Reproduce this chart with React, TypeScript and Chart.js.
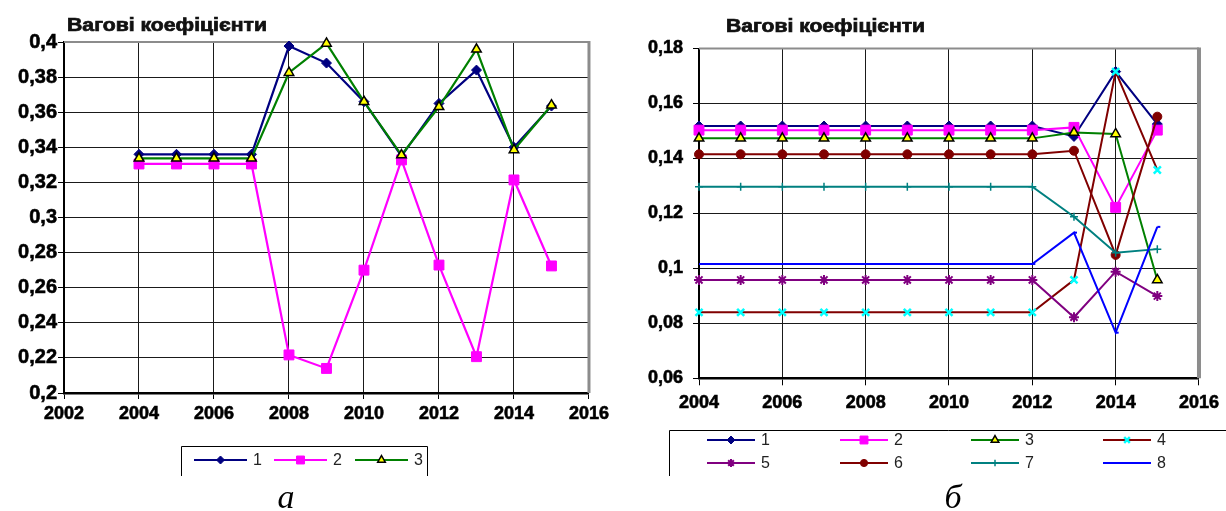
import React, { useEffect, useRef } from 'react';
import { Chart, registerables } from 'chart.js';
import { drawPoint } from 'chart.js/helpers';

Chart.register(...registerables);

const TITLE = 'Вагові коефіцієнти';

// Panel "а": three weight series
const yearsA = [2004, 2005, 2006, 2007, 2008, 2009, 2010, 2011, 2012, 2013, 2014, 2015];
const seriesA1 = [0.336, 0.336, 0.336, 0.336, 0.3977, 0.388, 0.366, 0.335, 0.365, 0.384, 0.340, 0.3635];
const seriesA2 = [0.3305, 0.3305, 0.3305, 0.3305, 0.2217, 0.214, 0.270, 0.3328, 0.2729, 0.2207, 0.3214, 0.2724];
const seriesA3 = [0.3337, 0.3337, 0.3337, 0.3337, 0.3825, 0.3992, 0.366, 0.3356, 0.3631, 0.3958, 0.3385, 0.364];
const namesA = ['1', '2', '3'];
const xTicksA = [2002, 2004, 2006, 2008, 2010, 2012, 2014, 2016];
const yTicksA = [0.2, 0.22, 0.24, 0.26, 0.28, 0.3, 0.32, 0.34, 0.36, 0.38, 0.4];

// Panel "б": eight weight series
const yearsB = [2004, 2005, 2006, 2007, 2008, 2009, 2010, 2011, 2012, 2013, 2014, 2015];
const seriesB1 = [0.1518, 0.1518, 0.1518, 0.1518, 0.1518, 0.1518, 0.1518, 0.1518, 0.1518, 0.148, 0.1716, 0.1525];
const seriesB2 = [0.1503, 0.1503, 0.1503, 0.1503, 0.1503, 0.1503, 0.1503, 0.1503, 0.1503, 0.1513, 0.1222, 0.1503];
const seriesB3 = [0.1473, 0.1473, 0.1473, 0.1473, 0.1473, 0.1473, 0.1473, 0.1473, 0.1473, 0.1494, 0.1489, 0.0958];
const seriesB4 = [0.084, 0.084, 0.084, 0.084, 0.084, 0.084, 0.084, 0.084, 0.084, 0.0958, 0.1716, 0.1358];
const seriesB5 = [0.0958, 0.0958, 0.0958, 0.0958, 0.0958, 0.0958, 0.0958, 0.0958, 0.0958, 0.0822, 0.0988, 0.0899];
const seriesB6 = [0.1415, 0.1415, 0.1415, 0.1415, 0.1415, 0.1415, 0.1415, 0.1415, 0.1415, 0.1428, 0.1049, 0.1552];
const seriesB7 = [0.1297, 0.1297, 0.1297, 0.1297, 0.1297, 0.1297, 0.1297, 0.1297, 0.1297, 0.1188, 0.1057, 0.107];
const seriesB8 = [0.1016, 0.1016, 0.1016, 0.1016, 0.1016, 0.1016, 0.1016, 0.1016, 0.1016, 0.113, 0.0766, 0.1151];
const namesB = ['1', '2', '3', '4', '5', '6', '7', '8'];
const xTicksB = [2004, 2006, 2008, 2010, 2012, 2014, 2016];
const yTicksB = [0.06, 0.08, 0.1, 0.12, 0.14, 0.16, 0.18];

// Per-series line and marker look
const STYLES = [
  { line: '#000080', point: 'rectRot', fill: '#000080', stroke: '#000080', r: 5, bw: 1 },
  { line: '#ff00ff', point: 'rect', fill: '#ff00ff', stroke: '#ff00ff', r: 7, bw: 1 },
  { line: '#008000', point: 'triangle', fill: '#ffff00', stroke: '#000000', r: 5.5, bw: 1.5 },
  { line: '#800000', point: 'crossRot', fill: '#00ffff', stroke: '#00ffff', r: 5, bw: 2.5 },
  { line: '#800080', point: 'star', fill: '#800080', stroke: '#800080', r: 5, bw: 2 },
  { line: '#800000', point: 'circle', fill: '#800000', stroke: '#800000', r: 4.5, bw: 1 },
  { line: '#008080', point: 'cross', fill: '#008080', stroke: '#008080', r: 4, bw: 1.5 },
  { line: '#0000ff', point: 'dash', fill: '#0000ff', stroke: '#0000ff', r: 3, bw: 2 },
];

const W = 613;
const H = 511;
const X_AXIS_H = 40;
const SANS = '"Liberation Sans", Arial, sans-serif';

type Box = { left: number; top: number; right: number; bottom: number };

interface Panel {
  offset: number;
  area: Box;
  years: number[];
  series: number[][];
  names: string[];
  xTicks: number[];
  yTicks: number[];
  yFontSize: number;
  yPad: number;
  xPad: number;
  tickLen: number;
  lineWidth: number;
  rightBorderW: number;
  title: { x: number; y: number; w: number };
  legendBox: Box;
  legendItems: { x0: number; x1: number; y: number }[];
  caption: { text: string; x: number; y: number };
}

const panelA: Panel = {
  offset: 0,
  area: { left: 64, top: 42, right: 589, bottom: 393 },
  years: yearsA,
  series: [seriesA1, seriesA2, seriesA3],
  names: namesA,
  xTicks: xTicksA,
  yTicks: yTicksA,
  yFontSize: 20,
  yPad: 1,
  xPad: 4,
  tickLen: 6,
  lineWidth: 2.2,
  rightBorderW: 3,
  title: { x: 67, y: 26, w: 200 },
  legendBox: { left: 181, top: 446, right: 427, bottom: 476 },
  legendItems: [
    { x0: 194, x1: 247, y: 460 },
    { x0: 274, x1: 327, y: 460 },
    { x0: 355, x1: 408, y: 460 },
  ],
  caption: { text: 'а', x: 286, y: 508 },
};

const panelB: Panel = {
  offset: 613,
  area: { left: 86, top: 48.5, right: 588, bottom: 378.3 },
  years: yearsB,
  series: [seriesB1, seriesB2, seriesB3, seriesB4, seriesB5, seriesB6, seriesB7, seriesB8],
  names: namesB,
  xTicks: xTicksB,
  yTicks: yTicksB,
  yFontSize: 18,
  yPad: 10,
  xPad: 7,
  tickLen: 7,
  lineWidth: 2,
  rightBorderW: 4,
  title: { x: 113, y: 27, w: 199 },
  legendBox: { left: 56, top: 430, right: 640, bottom: 476 },
  legendItems: [
    { x0: 94, x1: 142, y: 440 },
    { x0: 227, x1: 275, y: 440 },
    { x0: 358, x1: 406, y: 440 },
    { x0: 490, x1: 538, y: 440 },
    { x0: 94, x1: 142, y: 463 },
    { x0: 227, x1: 275, y: 463 },
    { x0: 358, x1: 406, y: 463 },
    { x0: 490, x1: 538, y: 463 },
  ],
  caption: { text: 'б', x: 340, y: 508 },
};

const fmtValue = (v: number) => String(Number(v.toFixed(2))).replace('.', ',');

function decorPlugin(p: Panel) {
  return {
    id: 'decor',
    beforeDatasetsDraw(chart: any) {
      const { ctx, chartArea: a } = chart;
      ctx.save();
      ctx.strokeStyle = '#8c8c8c';
      ctx.lineWidth = 2;
      ctx.beginPath();
      ctx.moveTo(a.left, a.top);
      ctx.lineTo(a.right, a.top);
      ctx.stroke();
      ctx.lineWidth = p.rightBorderW;
      ctx.beginPath();
      ctx.moveTo(a.right, a.top - 1);
      ctx.lineTo(a.right, a.bottom);
      ctx.stroke();
      ctx.restore();
    },
    afterDraw(chart: any) {
      const ctx: CanvasRenderingContext2D = chart.ctx;
      ctx.save();

      // heading, widened to the printed width
      ctx.font = `bold 18px ${SANS}`;
      ctx.fillStyle = '#111';
      ctx.strokeStyle = '#111';
      ctx.lineWidth = 0.7;
      ctx.textBaseline = 'middle';
      ctx.textAlign = 'left';
      const tw = ctx.measureText(TITLE).width;
      ctx.save();
      ctx.translate(p.title.x, p.title.y);
      ctx.scale(p.title.w / tw, 1);
      ctx.fillText(TITLE, 0, 0);
      ctx.strokeText(TITLE, 0, 0);
      ctx.restore();

      // legend frame (open at the bottom)
      const b = p.legendBox;
      ctx.strokeStyle = '#000';
      ctx.lineWidth = 1;
      ctx.beginPath();
      ctx.moveTo(b.left + 0.5, b.bottom);
      ctx.lineTo(b.left + 0.5, b.top + 0.5);
      ctx.lineTo(b.right + 0.5, b.top + 0.5);
      ctx.lineTo(b.right + 0.5, b.bottom);
      ctx.stroke();

      // legend entries
      p.legendItems.forEach((it, i) => {
        const st = STYLES[i];
        ctx.strokeStyle = st.line;
        ctx.lineWidth = 2;
        ctx.beginPath();
        ctx.moveTo(it.x0, it.y);
        ctx.lineTo(it.x1, it.y);
        ctx.stroke();
        ctx.fillStyle = st.fill;
        ctx.strokeStyle = st.stroke;
        ctx.lineWidth = st.bw;
        drawPoint(ctx, { pointStyle: st.point, radius: st.r * 0.8, borderWidth: st.bw, rotation: 0 } as any,
          (it.x0 + it.x1) / 2, it.y);
        ctx.fillStyle = '#222';
        ctx.font = `16px ${SANS}`;
        ctx.textBaseline = 'middle';
        ctx.textAlign = 'left';
        ctx.fillText(p.names[i], it.x1 + 6, it.y + 1);
      });

      // panel letter
      ctx.font = 'italic 34px "Liberation Serif", "Times New Roman", serif';
      ctx.fillStyle = '#000';
      ctx.textAlign = 'center';
      ctx.textBaseline = 'alphabetic';
      ctx.fillText(p.caption.text, p.caption.x, p.caption.y);
      ctx.restore();
    },
  };
}

function buildChart(canvas: HTMLCanvasElement, p: Panel) {
  const n = p.series.length;
  return new Chart(canvas, {
    type: 'line',
    data: {
      datasets: p.series.map((vals, i) => ({
        label: p.names[i],
        data: p.years.map((x, j) => ({ x, y: vals[j] })),
        borderColor: STYLES[i].line,
        borderWidth: p.lineWidth,
        backgroundColor: STYLES[i].fill,
        pointStyle: STYLES[i].point as any,
        pointRadius: STYLES[i].r,
        pointHoverRadius: STYLES[i].r,
        pointBackgroundColor: STYLES[i].fill,
        pointBorderColor: STYLES[i].stroke,
        pointBorderWidth: STYLES[i].bw,
        tension: 0,
        fill: false,
        clip: false as any,
        order: n - i,
      })),
    },
    options: {
      responsive: false,
      animation: false,
      events: [],
      layout: {
        padding: {
          left: 0,
          top: p.area.top,
          right: W - p.area.right,
          bottom: H - p.area.bottom - X_AXIS_H,
        },
      },
      plugins: {
        legend: { display: false },
        title: { display: false },
        tooltip: { enabled: false },
      },
      scales: {
        x: {
          type: 'linear',
          min: p.xTicks[0],
          max: p.xTicks[p.xTicks.length - 1],
          afterBuildTicks: (s: any) => {
            s.ticks = p.xTicks.map((v) => ({ value: v }));
          },
          afterFit: (s: any) => {
            s.height = X_AXIS_H;
          },
          grid: { color: '#1a1a1a', lineWidth: 1, tickLength: p.tickLen, tickColor: '#000', drawTicks: true },
          border: { color: '#000', width: 2.5 },
          ticks: {
            color: '#000',
            textStrokeColor: '#000',
            textStrokeWidth: 0.6,
            font: { family: SANS, size: 18, weight: 'bold' },
            padding: p.xPad,
            autoSkip: false,
            maxRotation: 0,
            callback: (v: any) => String(v),
          },
        },
        y: {
          type: 'linear',
          min: p.yTicks[0],
          max: p.yTicks[p.yTicks.length - 1],
          afterBuildTicks: (s: any) => {
            s.ticks = p.yTicks.map((v) => ({ value: v }));
          },
          afterFit: (s: any) => {
            s.width = p.area.left;
          },
          grid: { color: '#1a1a1a', lineWidth: 1, tickLength: 6, tickColor: '#000', drawTicks: true },
          border: { color: '#000', width: 2 },
          ticks: {
            color: '#000',
            textStrokeColor: '#000',
            textStrokeWidth: 0.6,
            font: { family: SANS, size: p.yFontSize, weight: 'bold' },
            padding: p.yPad,
            autoSkip: false,
            callback: (v: any) => fmtValue(Number(v)),
          },
        },
      },
    } as any,
    plugins: [decorPlugin(p)],
  });
}

export default function App() {
  const refA = useRef<HTMLCanvasElement>(null);
  const refB = useRef<HTMLCanvasElement>(null);

  useEffect(() => {
    const ca = buildChart(refA.current!, panelA);
    const cb = buildChart(refB.current!, panelB);
    return () => {
      ca.destroy();
      cb.destroy();
    };
  }, []);

  return (
    <div style={{ position: 'absolute', left: 0, top: 0, width: 1226, height: 511, background: '#fff' }}>
      <canvas ref={refA} width={W} height={H} style={{ position: 'absolute', left: panelA.offset, top: 0, display: 'block' }} />
      <canvas ref={refB} width={W} height={H} style={{ position: 'absolute', left: panelB.offset, top: 0, display: 'block' }} />
    </div>
  );
}
